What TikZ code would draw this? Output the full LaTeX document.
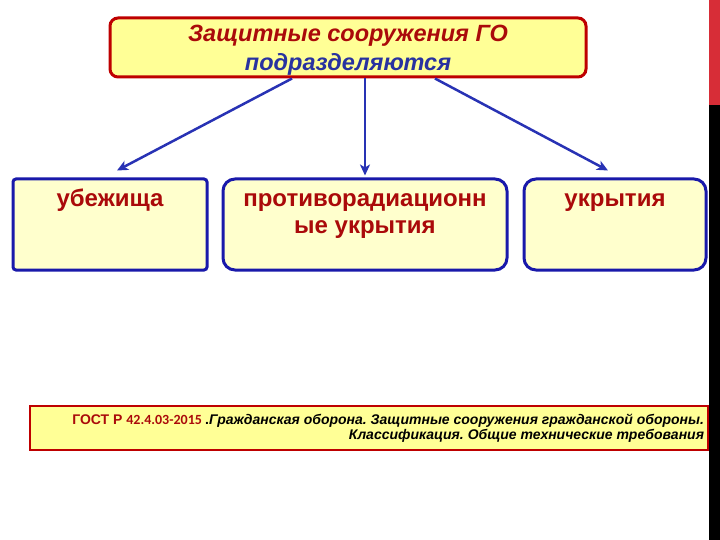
\documentclass[tikz,border=0pt]{standalone}
\usepackage{fontspec}
\setmainfont{Liberation Sans}
\newfontfamily\digitfont{Carlito}
\usetikzlibrary{positioning, arrows.meta}
\frenchspacing

\definecolor{titlered}{RGB}{170,10,10}
\definecolor{titleblue}{RGB}{40,50,160}
\definecolor{edgered}{RGB}{190,0,0}
\definecolor{edgeblue}{RGB}{25,25,170}
\definecolor{arrowblue}{RGB}{40,50,180}
\definecolor{headfill}{RGB}{255,255,150}
\definecolor{kindfill}{RGB}{255,255,205}
\definecolor{barred}{RGB}{215,45,55}

\newcommand{\kindtext}[2]{\parbox[c][73pt][t]{#1}{\centering\strut #2}}

\begin{document}
\begin{tikzpicture}[
        x=1pt, y=-1pt,
        head/.style={rectangle, draw=edgered, line width=3pt, fill=headfill, rounded corners=8pt, minimum width=476pt, minimum height=59pt, inner sep=0pt, font=\bfseries\itshape\fontsize{23.5}{29}\selectfont},
        kind/.style={rectangle, draw=edgeblue, line width=3pt, fill=kindfill, rounded corners=12pt, minimum height=91pt, inner sep=0pt, text=titlered, font=\bfseries\fontsize{24}{27}\selectfont},
        note/.style={rectangle, draw=edgered, line width=2.5pt, fill=headfill, minimum width=678pt, minimum height=44pt, inner sep=0pt, align=right, font=\bfseries\fontsize{14}{15.5}\selectfont},
        link/.style={draw=arrowblue, line width=2.5pt, -{Stealth[length=11pt,width=10pt,inset=3pt]}}
    ]
        \useasboundingbox (0,0) rectangle (720,540);

        % Side bar
        \fill[barred] (709,0) rectangle (720,105);
        \fill[black] (709,105) rectangle (720,540);

        % Nodes
        \node [head] (top) at (348,47.5) {\parbox[c][53pt][t]{470pt}{\centering\strut\textcolor{titlered}{Защитные сооружения ГО}\\\textcolor{titleblue}{подразделяются}}};
        \node [kind, minimum width=194pt, rounded corners=3pt] (shelter) at (110,224.5) {\kindtext{180pt}{убежища}};
        \node [kind, minimum width=284pt] (antirad) at (365,224.5) {\kindtext{270pt}{противорадиационн\\ые укрытия}};
        \node [kind, minimum width=182pt] (cover) at (615,224.5) {\kindtext{170pt}{укрытия}};
        \node [note] (gost) at (369,428) {\parbox{670pt}{\raggedleft\textcolor{titlered}{ГОСТ Р {\digitfont 42.4.03-2015 }}.\textit{Гражданская оборона. Защитные сооружения гражданской обороны.}\\\textit{Классификация. Общие технические требования}}};

        % Edges
        \path [link] ([xshift=-56pt]top.south) -- ([xshift=7pt,yshift=7pt]shelter.north);
        \path [link] ([xshift=17pt]top.south) -- ([yshift=2pt]antirad.north);
        \path [link] ([xshift=87pt]top.south) -- ([xshift=-7pt,yshift=7pt]cover.north);
    \end{tikzpicture}
\end{document}
